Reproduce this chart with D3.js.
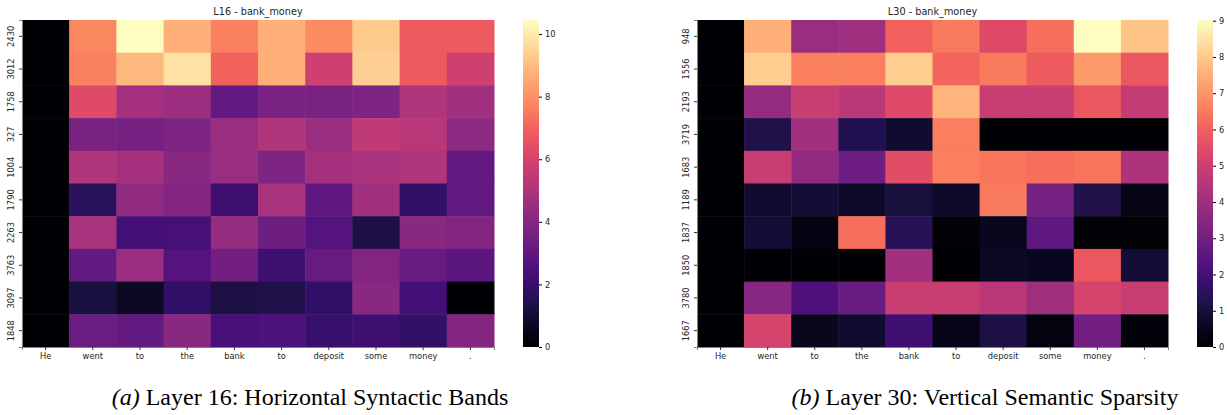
<!DOCTYPE html>
<html>
<head>
<meta charset="utf-8">
<script src="https://cdn.jsdelivr.net/npm/d3@7"></script>
<style>
  body { margin: 0; background: #fff; }
  svg text { font-family: "DejaVu Sans", sans-serif; fill: #262626; }
</style>
</head>
<body>
<div id="chart-area"></div>
<script>
// Tokens shared by both panels
const tokens = ["He", "went", "to", "the", "bank", "to", "deposit", "some", "money", "."];

// Layer 16 neuron ids and activations
const rowsL16 = ["2430", "3012", "1758", "327", "1004", "1790", "2263", "3763", "3097", "1848"];
const valuesL16 = [
  [0, 7.8, 10.45, 8.7, 7.7, 8.7, 7.9, 9.3, 6.8, 6.8],
  [0, 7.7, 8.9, 9.8, 7.0, 8.7, 5.8, 9.4, 6.8, 5.8],
  [0, 6.3, 4.8, 4.6, 3.1, 3.7, 3.7, 3.8, 5.1, 4.7],
  [0, 3.7, 3.6, 3.8, 4.5, 5.1, 4.5, 5.5, 5.3, 4.2],
  [0, 5.1, 4.8, 4.1, 4.5, 3.8, 4.8, 4.9, 5.1, 3.1],
  [0, 1.7, 4.3, 4.0, 2.2, 4.9, 3.0, 4.7, 1.9, 3.1],
  [0, 4.9, 2.3, 2.4, 4.4, 3.4, 2.7, 1.3, 4.1, 3.9],
  [0, 3.1, 4.5, 2.7, 3.5, 2.2, 3.2, 3.9, 3.2, 2.9],
  [0, 1.2, 0.7, 1.9, 1.3, 1.4, 1.9, 4.1, 2.3, 0.05],
  [0, 3.3, 3.1, 4.1, 2.4, 2.5, 2.0, 2.2, 1.9, 4.0]
];
const ticksL16 = [0, 2, 4, 6, 8, 10];

// Layer 30 neuron ids and activations
const rowsL30 = ["948", "1556", "2193", "3719", "1683", "1189", "1837", "1850", "3780", "1667"];
const valuesL30 = [
  [0, 7.5, 3.9, 4.0, 6.0, 6.5, 5.4, 6.3, 9.02, 7.9],
  [0, 8.1, 6.6, 6.6, 8.1, 6.1, 6.5, 5.9, 7.1, 5.8],
  [0, 3.8, 4.9, 4.6, 5.4, 7.6, 4.9, 4.9, 5.8, 4.8],
  [0, 1.2, 4.1, 1.3, 0.8, 6.6, 0, 0, 0, 0],
  [0, 4.9, 3.7, 2.9, 5.5, 6.6, 6.4, 6.3, 6.4, 4.3],
  [0, 0.8, 0.9, 0.7, 1.0, 0.7, 6.5, 3.1, 1.2, 0.35],
  [0, 0.9, 0.3, 6.3, 1.4, 0.1, 0.5, 2.6, 0.1, 0.1],
  [0, 0.05, 0.05, 0.05, 4.1, 0.05, 0.6, 0.55, 5.8, 0.9],
  [0, 3.5, 2.2, 2.8, 4.9, 4.9, 4.6, 4.0, 5.2, 4.9],
  [0, 5.2, 0.5, 0.8, 1.9, 0.4, 1.1, 0.25, 3.0, 0.2]
];
const ticksL30 = [0, 1, 2, 3, 4, 5, 6, 7, 8, 9];

const svg = d3.select("#chart-area")
  .append("svg")
  .attr("width", 1227)
  .attr("height", 415);

const tickFont = 8.3;

function drawPanel(opts) {
  const { x0, x1, y0, y1, cbX, rows, values, ticks, title, caption, captionX } = opts;

  const xScale = d3.scaleBand().domain(d3.range(tokens.length)).range([x0, x1]);
  const yScale = d3.scaleBand().domain(rows).range([y0, y1]);
  const vmax = d3.max(values.flat());
  const color = d3.scaleSequential(d3.interpolateMagma).domain([0, vmax]);

  const g = svg.append("g");

  // cells
  values.forEach((row, i) => {
    g.selectAll(null)
      .data(row)
      .enter()
      .append("rect")
      .attr("x", (d, j) => xScale(j))
      .attr("y", yScale(rows[i]))
      .attr("width", xScale.bandwidth() + 0.5)
      .attr("height", yScale.bandwidth() + 0.5)
      .attr("fill", (d) => color(d));
  });

  // x axis
  const xAxis = g.append("g")
    .attr("transform", `translate(0,${y1})`)
    .call(d3.axisBottom(xScale).tickSize(3).tickPadding(3).tickFormat((i) => tokens[i]));
  xAxis.selectAll("text").attr("font-size", tickFont).attr("font-family", "DejaVu Sans");

  // y axis with rotated labels
  const yAxis = g.append("g")
    .attr("transform", `translate(${x0},0)`)
    .call(d3.axisLeft(yScale).tickSize(3).tickPadding(0));
  yAxis.selectAll("text")
    .attr("font-size", tickFont)
    .attr("font-family", "DejaVu Sans")
    .attr("text-anchor", "middle")
    .attr("transform", "translate(-11,0) rotate(-90)")
    .attr("x", 0)
    .attr("dy", "0.35em");

  [xAxis, yAxis].forEach((a) => {
    a.select(".domain").attr("stroke", "#808080").attr("stroke-width", 1);
    a.selectAll(".tick line").attr("stroke", "#333");
  });

  // title
  g.append("text")
    .attr("x", (x0 + x1) / 2)
    .attr("y", y0 - 5)
    .attr("text-anchor", "middle")
    .attr("font-size", 9.7)
    .text(title);

  // colorbar
  const cbW = 16;
  const cbScale = d3.scaleLinear().domain([0, vmax]).range([y1, y0]);
  const defs = svg.append("defs");
  const gradId = "grad-" + title.slice(0, 3);
  const grad = defs.append("linearGradient")
    .attr("id", gradId)
    .attr("x1", 0).attr("y1", 1).attr("x2", 0).attr("y2", 0);
  d3.range(0, 1.0001, 0.05).forEach((t) => {
    grad.append("stop").attr("offset", t).attr("stop-color", d3.interpolateMagma(t));
  });
  g.append("rect")
    .attr("x", cbX)
    .attr("y", y0)
    .attr("width", cbW)
    .attr("height", y1 - y0)
    .attr("fill", `url(#${gradId})`);
  const cbAxis = g.append("g")
    .attr("transform", `translate(${cbX + cbW},0)`)
    .call(d3.axisRight(cbScale).tickValues(ticks).tickSize(3).tickPadding(3));
  cbAxis.select(".domain").remove();
  cbAxis.selectAll("text").attr("font-size", tickFont).attr("font-family", "DejaVu Sans");

  // caption
  const cap = svg.append("text")
    .attr("x", captionX)
    .attr("y", 405)
    .attr("text-anchor", "middle")
    .style("font-family", "'Liberation Serif', 'Times New Roman', serif")
    .attr("font-size", 24)
    .style("fill", "#000");
  cap.append("tspan").attr("font-style", "italic").text(caption[0]);
  cap.append("tspan").text(" " + caption[1]);
}

drawPanel({
  x0: 22, x1: 494, y0: 20, y1: 347, cbX: 523,
  rows: rowsL16, values: valuesL16, ticks: ticksL16,
  title: "L16 - bank_money",
  caption: ["(a)", "Layer 16: Horizontal Syntactic Bands"],
  captionX: 310
});

drawPanel({
  x0: 697, x1: 1168, y0: 20, y1: 347, cbX: 1197,
  rows: rowsL30, values: valuesL30, ticks: ticksL30,
  title: "L30 - bank_money",
  caption: ["(b)", "Layer 30: Vertical Semantic Sparsity"],
  captionX: 985
});
</script>
</body>
</html>
